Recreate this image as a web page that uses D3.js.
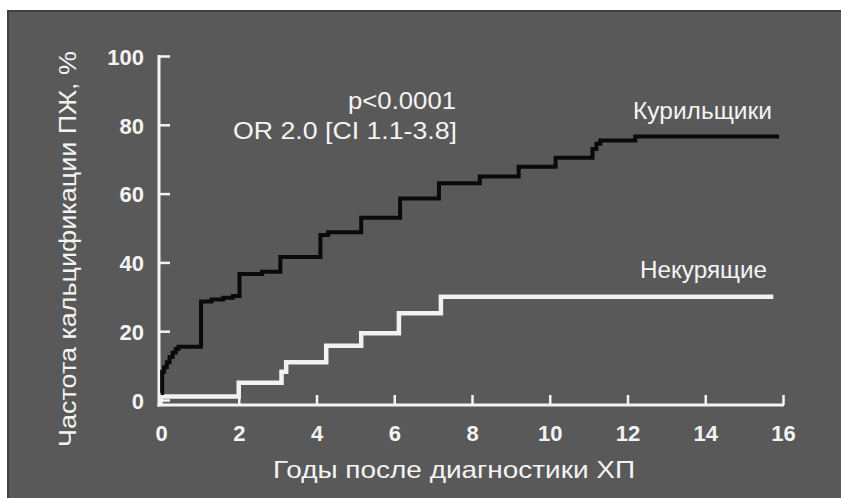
<!DOCTYPE html>
<html>
<head>
<meta charset="utf-8">
<script src="https://cdn.jsdelivr.net/npm/d3@7"></script>
<style>
  html, body { margin: 0; padding: 0; background: #ffffff; }
  svg { display: block; }
  text { font-family: "Liberation Sans", Arial, sans-serif; fill: #f4f4f4; }
</style>
</head>
<body>
<svg id="chart" width="841" height="498"></svg>
<script>
// ---- data ----
const xTicks = [0, 2, 4, 6, 8, 10, 12, 14, 16];
const yTicks = [0, 20, 40, 60, 80, 100];

const smokerTime  = [0, 0.03, 0.08, 0.15, 0.22, 0.3, 0.38, 0.45, 1.03, 1.3, 1.6, 1.85, 2.02, 2.6, 3.07, 4.1, 4.3, 5.15, 6.15, 7.15, 8.2, 9.2, 10.15, 11.1, 11.2, 11.3, 12.2, 15.9];
const smokerValue = [2, 8.2, 9.5, 11, 12.5, 13.8, 14.8, 15.5, 28.6, 29.2, 29.7, 30.2, 36.6, 37.3, 41.6, 48.0, 48.8, 53.0, 58.6, 63.0, 65.0, 67.8, 70.4, 73, 74.5, 75.4, 76.6, 76.6];

const nonsmokerTime  = [0, 2.0, 3.1, 3.22, 4.25, 5.15, 6.12, 7.2, 15.75];
const nonsmokerValue = [1, 5, 8.2, 11, 15.8, 19.4, 25.2, 30.0, 30.0];

const seriesLabels = ["Курильщики", "Некурящие"];
const annotationLines = ["p<0.0001", "OR 2.0 [CI 1.1-3.8]"];
const xTitle = "Годы после диагностики ХП";
const yTitle = "Частота кальцификации ПЖ, %";

// ---- layout ----
const svg = d3.select("#chart");
const W = 841, H = 498;

svg.append("rect").attr("x", 0).attr("y", 0).attr("width", W).attr("height", H).attr("fill", "#ffffff");
svg.append("rect").attr("x", 7).attr("y", 10).attr("width", W - 7).attr("height", H - 10)
  .attr("fill", "#595959");
// darker edge on top and left of the panel
svg.append("path").attr("d", `M8,${H} V11 H${W}`).attr("fill", "none")
  .attr("stroke", "#404040").attr("stroke-width", 2);

const x = d3.scaleLinear().domain([0, 16]).range([161, 783]);
const y = d3.scaleLinear().domain([0, 100]).range([400, 56]);
const axisY = 405;   // x-axis drawn slightly below zero
const axisX = 159;   // y-axis line position

// axis lines
svg.append("line").attr("x1", axisX).attr("x2", axisX).attr("y1", y(100) - 1).attr("y2", axisY + 1.5)
  .attr("stroke", "#f4f4f4").attr("stroke-width", 3);
svg.append("line").attr("x1", axisX - 1.5).attr("x2", x(16) + 1).attr("y1", axisY).attr("y2", axisY)
  .attr("stroke", "#f4f4f4").attr("stroke-width", 3);

// y axis
const gy = svg.append("g").attr("transform", `translate(${axisX},0)`)
  .call(d3.axisLeft(y).tickValues(yTicks).tickSizeInner(-11).tickSizeOuter(0).tickPadding(15));
gy.select(".domain").remove();
gy.selectAll(".tick line").attr("stroke", "#f4f4f4").attr("stroke-width", 2.5);
gy.selectAll(".tick text").attr("font-size", 22).attr("font-weight", "bold").attr("fill", "#f4f4f4")
  .attr("dy", "0.38em");

// x axis
const gx = svg.append("g").attr("transform", `translate(0,${axisY})`)
  .call(d3.axisBottom(x).tickValues(xTicks).tickSizeInner(-10).tickSizeOuter(0).tickPadding(20));
gx.select(".domain").remove();
gx.selectAll(".tick line").attr("stroke", "#f4f4f4").attr("stroke-width", 2.5);
gx.selectAll(".tick text").attr("font-size", 22).attr("font-weight", "bold").attr("fill", "#f4f4f4");

// series
const line = d3.line().x(d => x(d[0])).y(d => y(d[1])).curve(d3.curveStepAfter);
const nonsmoker = nonsmokerTime.map((t, i) => [t, nonsmokerValue[i]]);
const smoker = smokerTime.map((t, i) => [t, smokerValue[i]]);

svg.append("path").datum(nonsmoker).attr("d", line)
  .attr("fill", "none").attr("stroke", "#f2f2f2").attr("stroke-width", 4.5);
svg.append("path").datum(smoker).attr("d", line)
  .attr("fill", "none").attr("stroke", "#0a0a0a").attr("stroke-width", 4);

// helper for stretched text
function label(xp, yp, anchor, size, len, str) {
  return svg.append("text").attr("x", xp).attr("y", yp).attr("text-anchor", anchor)
    .attr("font-size", size).attr("textLength", len).attr("lengthAdjust", "spacingAndGlyphs").text(str);
}

// series labels
label(772, 119, "end", 24, 139, seriesLabels[0]);
label(767, 278, "end", 24, 127, seriesLabels[1]);

// annotation
label(456, 109, "end", 24, 108, annotationLines[0]);
label(457, 139, "end", 24, 224, annotationLines[1]);

// axis titles
label(454, 478, "middle", 24, 362, xTitle);
svg.append("text").attr("transform", "translate(76,249) rotate(-90)").attr("text-anchor", "middle")
  .attr("font-size", 24).attr("textLength", 396).attr("lengthAdjust", "spacingAndGlyphs").text(yTitle);
</script>
</body>
</html>
